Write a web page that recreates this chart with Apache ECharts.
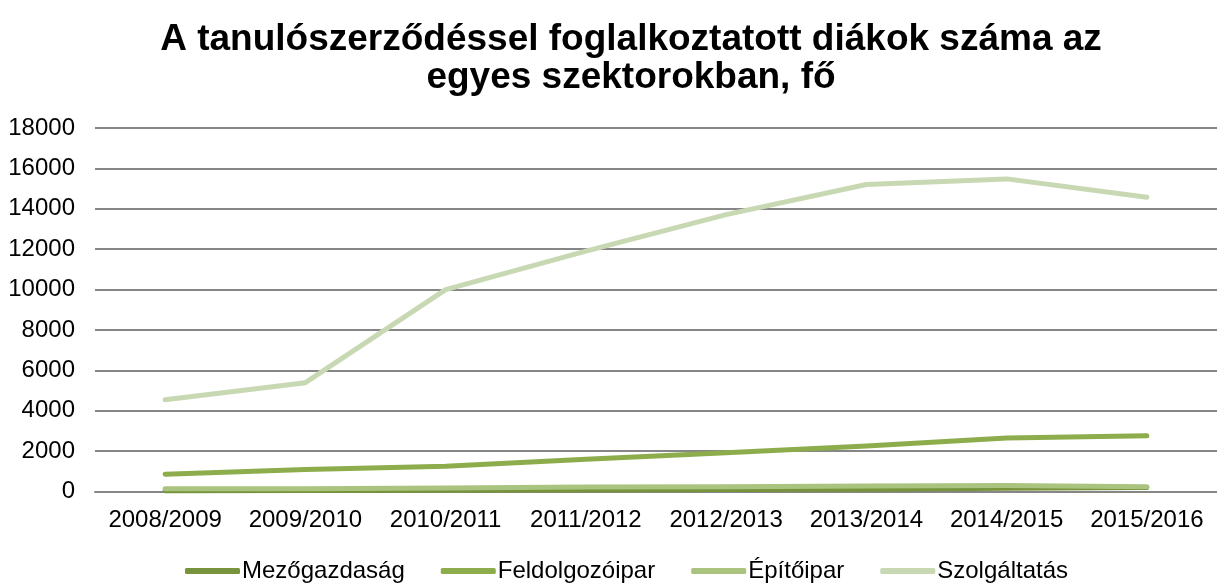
<!DOCTYPE html>
<html>
<head>
<meta charset="utf-8">
<script src="https://cdn.jsdelivr.net/npm/echarts@6/dist/echarts.min.js"></script>
<style>html,body{margin:0;padding:0;background:#fff}#c{width:1217px;height:583px}</style>
</head>
<body>
<div id="c"></div>
<script>
const categories = ['2008/2009','2009/2010','2010/2011','2011/2012','2012/2013','2013/2014','2014/2015','2015/2016'];
const mezogazdasag = [40, 50, 60, 80, 100, 110, 160, 200];
const feldolgozoipar = [860, 1090, 1250, 1600, 1920, 2250, 2650, 2760];
const epitoipar = [130, 140, 170, 220, 240, 270, 300, 230];
const szolgaltatas = [4540, 5390, 10000, 11900, 13710, 15200, 15480, 14570];
const yTicks = {min: 0, max: 18000, interval: 2000};

const font = 'Liberation Sans, Arial, sans-serif';
const chart = echarts.init(document.getElementById('c'));
function s(name, data, color) {
  return {name, type: 'line', data, symbol: 'none', smooth: false,
    lineStyle: {width: 5, color, cap: 'round', join: 'round'}, itemStyle: {color}};
}
chart.setOption({
  animation: false,
  title: {
    text: 'A tanulószerződéssel foglalkoztatott diákok száma az\negyes szektorokban, fő',
    left: 626, top: 16, textAlign: 'center',
    textStyle: {fontFamily: font, fontWeight: 'bold', fontSize: 37, lineHeight: 38, color: '#000'}
  },
  grid: {left: 95, top: 128, width: 1131, height: 363.5, containLabel: false},
  legend: {
    top: 554, left: 180, itemWidth: 55, itemHeight: 6, itemGap: 36, icon: 'roundRect',
    textStyle: {fontFamily: font, fontSize: 24, color: '#000', padding: [0,0,0,-3]},
    data: ['Mezőgazdaság','Feldolgozóipar','Építőipar','Szolgáltatás']
  },
  xAxis: {
    type: 'category', data: categories, boundaryGap: true,
    axisLine: {show: true, lineStyle: {color: '#868686', width: 2}},
    axisTick: {show: false},
    axisLabel: {fontFamily: font, fontSize: 24, color: '#000', margin: 17, interval: 0, hideOverlap: false}
  },
  yAxis: {
    type: 'value', min: yTicks.min, max: yTicks.max, interval: yTicks.interval,
    axisLine: {show: false}, axisTick: {show: false},
    splitLine: {lineStyle: {color: '#868686', width: 2}},
    axisLabel: {fontFamily: font, fontSize: 24, color: '#000', margin: 20, formatter: v => String(v)}
  },
  series: [
    s('Mezőgazdaság', mezogazdasag, '#77933C'),
    s('Feldolgozóipar', feldolgozoipar, '#8DAD4C'),
    s('Építőipar', epitoipar, '#AAC47F'),
    s('Szolgáltatás', szolgaltatas, '#C8D8B3')
  ]
});
</script>
</body>
</html>
